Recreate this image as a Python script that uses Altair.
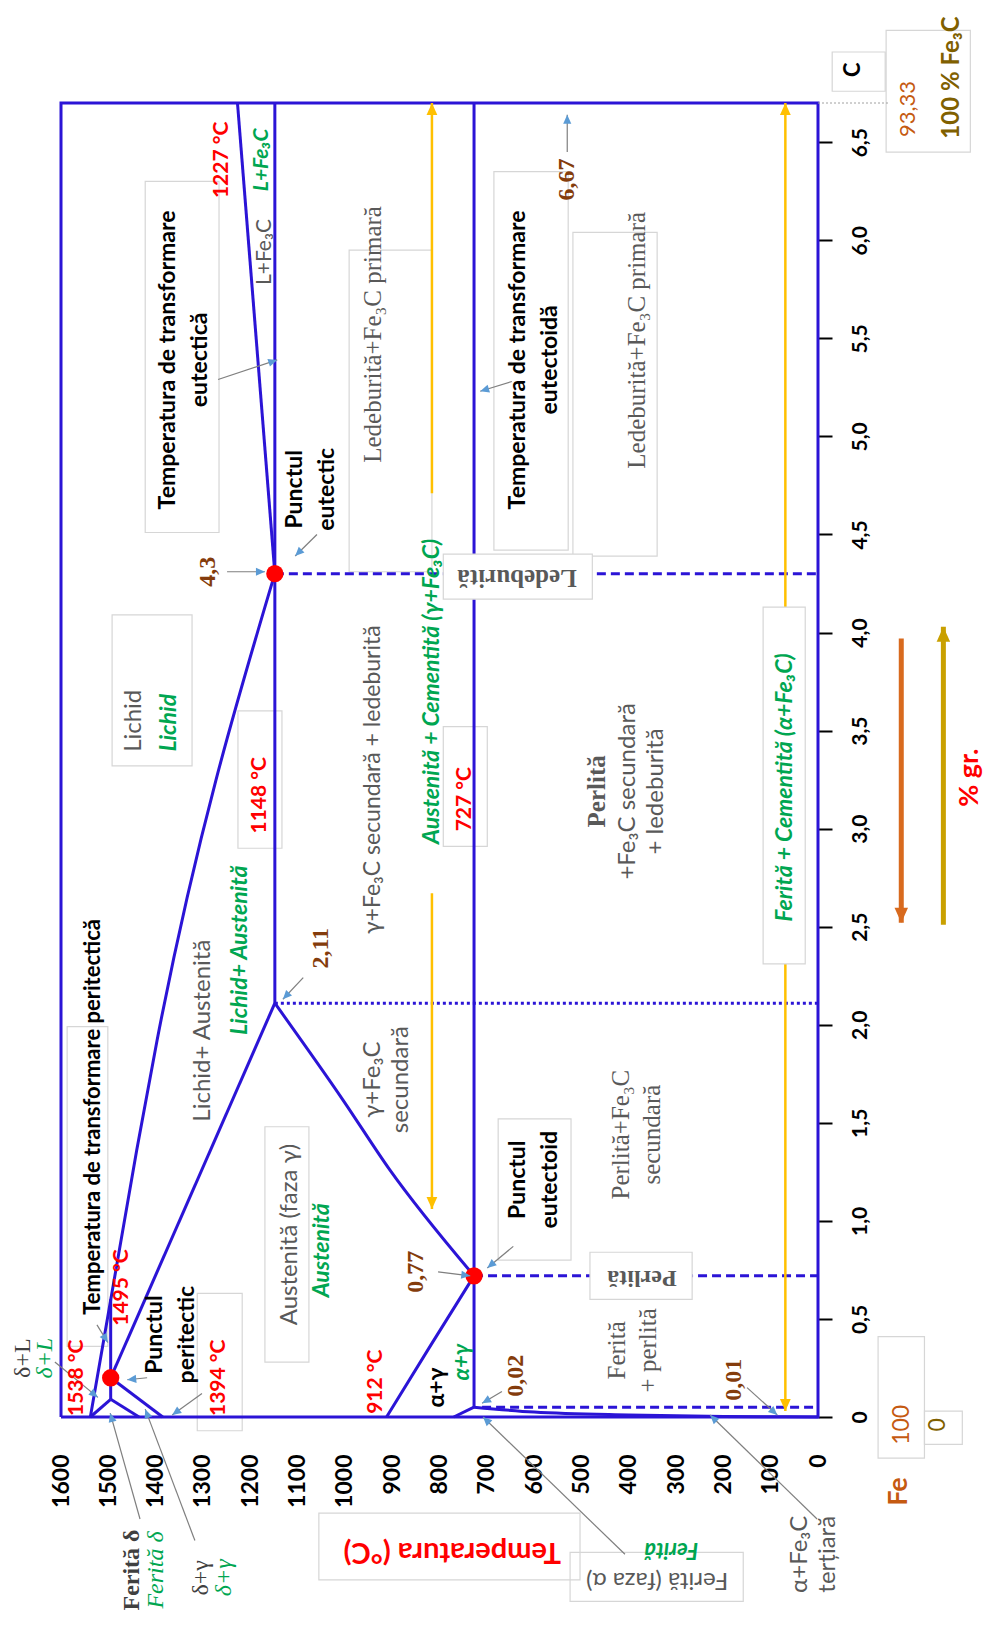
import math
import altair as alt
import pandas as pd

W, H = 757, 1314
T_MAX, C_MAX = 1600, 6.7

BLUE = "#2B14D6"
GOLD = "#FFC000"
GREY = "#595959"
DGREY = "#404040"
GREEN = "#00A651"
RED = "#FF0000"
BROWN = "#843C0C"
ORANGE = "#C55A11"
OLIVE = "#806000"
HEADBLUE = "#5B9BD5"

# ---------------- axis ticks ----------------
TEMP_TICKS = [0, 100, 200, 300, 400, 500, 600, 700, 800, 900, 1000,
              1100, 1200, 1300, 1400, 1500, 1600]
C_TICKS = [0, 0.5, 1.0, 1.5, 2.0, 2.5, 3.0, 3.5, 4.0, 4.5, 5.0, 5.5, 6.0, 6.5]

# ---------------- phase lines (T in °C, C in % gr.) ----------------
BOX_T = [1600, 0, 0, 1600, 1600]
BOX_C = [0, 0, 6.7, 6.7, 0]
LIQUIDUS_T = [1538, 1440, 1397, 1148]
LIQUIDUS_C = [0, 1.36, 1.92, 4.3]
LIQ_FE3C_T = [1148, 1227]
LIQ_FE3C_C = [4.3, 6.7]
DELTA_SOL_T = [1538, 1495]
DELTA_SOL_C = [0, 0.09]
PERITECTIC_T = [1495, 1495]
PERITECTIC_C = [0.09, 0.6]
GAMMA_SOL_T = [1495, 1148]
GAMMA_SOL_C = [0.2, 2.11]
DG1_T = [1495, 1435]
DG1_C = [0.09, 0]
DG2_T = [1495, 1385]
DG2_C = [0.2, 0]
EUTECTIC_T = [1148, 1148]
EUTECTIC_C = [2.11, 6.7]
ACM_T = [1148, 1005, 905, 727]
ACM_C = [2.11, 1.62, 1.26, 0.72]
A3_T = [912, 820, 727]
A3_C = [0, 0.36, 0.72]
AG_T = [770, 727]
AG_C = [0, 0.05]
EUTECTOID_T = [727, 727]
EUTECTOID_C = [0.05, 6.7]
SOLVUS_T = [727, 600, 400, 200, 0]
SOLVUS_C = [0.05, 0.025, 0.01, 0.003, 0]

DASH43_T = [1148, 0]
DASH43_C = [4.3, 4.3]
DASH077_T = [727, 0]
DASH077_C = [0.72, 0.72]
DASH002_T = [710, 10]
DASH002_C = [0.05, 0.05]
DOT211_T = [1148, 0]
DOT211_C = [2.11, 2.11]

TOPEXT_T = [0, -150]
TOPEXT_C = [6.7, 6.7]

# special points
DOT_T = [1495, 1148, 727]
DOT_C = [0.2, 4.3, 0.72]

# gold arrows (T, C from, C to)
GOLD_SEG_T = [816, 816, 69, 69]
GOLD_SEG_C1 = [4.71, 1.06, 4.13, 0.03]
GOLD_SEG_C2 = [6.7, 2.67, 6.7, 2.31]

# outer arrows
ORANGE_T = -176
ORANGE_C = [3.97, 2.52]
OLIVE_T = -265
OLIVE_C = [2.51, 4.03]

# annotation arrows (tail T, tail C, head T, head C)
ARROWS = [
    (1613, 0.28, 1522, 0.10),
    (1524, 0.47, 1501, 0.38),
    (1418, 0.20, 1460, 0.19),
    (1302, 0.12, 1365, 0.01),
    (1433, -0.52, 1496, 0.02),
    (1317, -0.63, 1422, 0.04),
    (803, 0.74, 735, 0.72),
    (644, 0.87, 699, 0.76),
    (668, 0.13, 710, 0.07),
    (150, 0.15, 86, 0.01),
    (408, -0.70, 708, 0.0),
    (2, -0.52, 228, 0.01),
    (1268, 5.29, 1143, 5.39),
    (1059, 4.50, 1105, 4.39),
    (1249, 4.31, 1169, 4.31),
    (1088, 2.24, 1131, 2.13),
    (647, 5.28, 714, 5.23),
    (530, 6.45, 530, 6.64),
]

# label boxes (T1, T2, C1, C2, filled)
BOXES = [
    (792, 477, 4.40, 4.17, True),
    (482, 266, 0.84, 0.60, True),
    (116, 27, 4.13, 2.31, True),
    (792, 699, 3.52, 2.91, False),
    (1226, 1133, 3.60, 2.90, False),
    (1492, 1323, 4.09, 3.32, False),
    (1422, 1266, 6.30, 4.51, False),
    (991, 816, 5.95, 4.31, False),
    (685, 528, 6.35, 4.42, False),
    (518, 340, 6.04, 4.39, False),
    (676, 522, 1.52, 0.80, False),
    (1055, 503, -0.49, -0.83, False),
    (524, 158, -0.69, -0.94, False),
    (-30, -142, 6.96, 6.76, False),
    (-144, -322, 7.07, 6.45, False),
    (-127, -225, 0.41, -0.21, False),
    (-225, -305, 0.03, -0.14, False),
    (1169, 1076, 1.48, 0.28, False),
    (1587, 1501, 1.99, 0.36, False),
    (1312, 1217, 0.63, -0.07, False),
]

# text labels: (text, T, C, color, size, angle); multi-line labels anchor on first line
SANS = [
    ("Austenită (faza γ)", 1116, 0.93, GREY, 24, 270),
    ("Lichid+ Austenită", 1300, 1.97, GREY, 24, 270),
    ("γ+Fe₃C\nsecundară", 940, 1.72, GREY, 24, 270),
    ("Lichid", 1446, 3.55, GREY, 24, 270),
    ("γ+Fe₃C secundară + ledeburită", 940, 3.25, GREY, 23, 270),
    ("+Fe₃C secundară\n+ ledeburită", 401, 3.19, GREY, 24, 270),
    ("L+Fe₃C", 1169, 5.94, GREY, 21, 270),
    ("Ferită (faza α)", 340, -0.83, GREY, 24, 180),
    ("α+Fe₃C\nterțiară", 38, -0.70, GREY, 24, 270),
    ("93,33", -191, 6.67, ORANGE, 22, 270),
    ("100", -178, -0.04, ORANGE, 23, 270),
    ("0", -254, -0.04, OLIVE, 23, 270),
]
SANS_B = [
    ("Temperatura de  transformare peritectică", 1532, 1.53, "black", 22, 270),
    ("1538 °C", 1566, 0.20, RED, 21, 270),
    ("1495 °C", 1471, 0.66, RED, 21, 270),
    ("Punctul\nperitectic", 1401, 0.42, "black", 23, 270),
    ("1394 °C", 1266, 0.20, RED, 21, 270),
    ("912 °C", 934, 0.18, RED, 21, 270),
    ("α+γ", 805, 0.15, "black", 23, 270),
    ("Punctul\neutectoid", 634, 1.21, "black", 23, 270),
    ("1148 °C", 1179, 3.17, RED, 21, 270),
    ("727 °C", 746, 3.15, RED, 21, 270),
    ("1227 °C", 1260, 6.41, RED, 21, 270),
    ("Temperatura de  transformare\neutectică", 1374, 5.39, "black", 23, 270),
    ("Punctul\neutectic", 1105, 4.73, "black", 23, 270),
    ("Temperatura de transformare\neutectoidă", 634, 5.39, "black", 23, 270),
    ("Temperatura (°C)", 773, -0.69, RED, 29, 180),
    ("C", -74, 6.87, "black", 22, 270),
    ("100 % Fe₃C", -284, 6.83, OLIVE, 24, 270),
    ("Fe", -172, -0.38, ORANGE, 27, 270),
    ("% gr.", -322, 3.26, RED, 27, 270),
]
SANS_BI = [
    ("Austenită", 1048, 0.85, GREEN, 23, 270),
    ("α+γ", 752, 0.28, GREEN, 22, 270),
    ("Lichid+ Austenită", 1222, 2.38, GREEN, 23, 270),
    ("Lichid", 1372, 3.54, GREEN, 23, 270),
    ("Austenită + Cementită (γ+Fe₃C)", 816, 3.70, GREEN, 23, 270),
    ("Ferită + Cementită (α+Fe₃C)", 69, 3.21, GREEN, 23, 270),
    ("L+Fe₃C", 1175, 6.41, GREEN, 21, 270),
    ("Ferită", 310, -0.68, GREEN, 22, 180),
]
SERIF = [
    ("δ+L", 1680, 0.30, DGREY, 24, 270),
    ("Ferită\n+ perlită", 425, 0.34, GREY, 25, 270),
    ("Perlită+Fe₃C\nsecundară", 416, 1.44, GREY, 25, 270),
    ("Ledeburită+Fe₃C primară", 940, 5.52, GREY, 25, 270),
    ("Ledeburită+Fe₃C primară", 382, 5.49, GREY, 25, 270),
    ("δ+γ", 1304, -0.82, DGREY, 24, 270),
]
SERIF_B = [
    ("Ferită δ", 1450, -0.78, DGREY, 24, 270),
    ("0,77", 849, 0.74, BROWN, 24, 270),
    ("0,02", 638, 0.21, BROWN, 24, 270),
    ("0,01", 177, 0.19, BROWN, 24, 270),
    ("4,3", 1289, 4.31, BROWN, 24, 270),
    ("2,11", 1050, 2.39, BROWN, 24, 270),
    ("6,67", 530, 6.31, BROWN, 24, 270),
    ("Perlită", 372, 0.71, GREY, 24, 180),
    ("Ledeburită", 636, 4.28, GREY, 25, 180),
    ("Perlită", 467, 3.19, GREY, 25, 270),
]
SERIF_I = [
    ("δ+L", 1634, 0.30, GREEN, 24, 270),
    ("Ferită δ", 1399, -0.78, GREEN, 24, 270),
    ("δ+γ", 1255, -0.82, GREEN, 24, 270),
]

# line heights per multi-line label group
LH_SANS, LH_SANS_B, LH_SERIF = 28, 32, 31

# ---------------- scales / axes ----------------
xs = alt.Scale(domain=[0, T_MAX], reverse=True, nice=False, zero=False)
ys = alt.Scale(domain=[0, C_MAX], nice=False, zero=False)

xaxis = alt.Axis(values=TEMP_TICKS, format="d", labelAngle=270, labelAlign="right",
                 labelBaseline="middle", labelFontSize=23, labelFontWeight="bold",
                 labelFont="Lato", labelColor="black", labelPadding=37, ticks=True,
                 tickSize=0, domain=False, grid=False, labelOverlap=False,
                 labelFlush=False, labelBound=False, title="")
yaxis = alt.Axis(orient="right", values=C_TICKS,
                 labelExpr="datum.value == 0 ? '0' : replace(format(datum.value, '.1f'), '.', ',')",
                 labelAngle=270, labelAlign="center", labelBaseline="top",
                 labelFontSize=21, labelFontWeight="bold", labelFont="Lato",
                 labelColor="black", labelPadding=17, tickSize=14, tickColor="black",
                 tickWidth=2, domain=False, grid=False, labelOverlap=False,
                 labelFlush=False, labelBound=False, title="")

X = alt.X("T:Q", scale=xs, axis=xaxis, title="")
Y = alt.Y("C:Q", scale=ys, axis=yaxis, title="")


def lines_df(segments):
    rows = []
    for name, ts, cs in segments:
        for i, (t, c) in enumerate(zip(ts, cs)):
            rows.append({"name": name, "i": i, "T": t, "C": c})
    return pd.DataFrame(rows)


def line_layer(segments, **mark):
    return alt.Chart(lines_df(segments)).mark_line(**mark).encode(
        x=X, y=Y, detail="name:N", order="i:Q")


solid = line_layer([
    ("box", BOX_T, BOX_C),
    ("liqfe3c", LIQ_FE3C_T, LIQ_FE3C_C), ("dsol", DELTA_SOL_T, DELTA_SOL_C),
    ("perit", PERITECTIC_T, PERITECTIC_C), ("gsol", GAMMA_SOL_T, GAMMA_SOL_C),
    ("dg1", DG1_T, DG1_C), ("dg2", DG2_T, DG2_C),
    ("eut", EUTECTIC_T, EUTECTIC_C), ("ag", AG_T, AG_C),
    ("eutd", EUTECTOID_T, EUTECTOID_C),
], color=BLUE, strokeWidth=3)

curves = line_layer([
    ("liq", LIQUIDUS_T, LIQUIDUS_C), ("acm", ACM_T, ACM_C),
    ("a3", A3_T, A3_C), ("solv", SOLVUS_T, SOLVUS_C),
], color=BLUE, strokeWidth=3, interpolate="monotone")

dashed = line_layer([
    ("d43", DASH43_T, DASH43_C), ("d077", DASH077_T, DASH077_C),
    ("d002", DASH002_T, DASH002_C),
], color=BLUE, strokeWidth=3, strokeDash=[9, 5])

dotted = line_layer([("d211", DOT211_T, DOT211_C)], color=BLUE, strokeWidth=3,
                    strokeDash=[3, 3])

topext = line_layer([("top", TOPEXT_T, TOPEXT_C)], color="#A0A0A0", strokeWidth=1,
                    strokeDash=[2, 2])

gold = line_layer([("g%d" % k, [t, t], [c1, c2]) for k, (t, c1, c2) in
                   enumerate(zip(GOLD_SEG_T, GOLD_SEG_C1, GOLD_SEG_C2))],
                  color=GOLD, strokeWidth=2.5)

orange = line_layer([("o", [ORANGE_T, ORANGE_T], ORANGE_C)], color="#D86A1E",
                    strokeWidth=5)
olive = line_layer([("v", [OLIVE_T, OLIVE_T], OLIVE_C)], color="#C9A000",
                   strokeWidth=5)

box_df = pd.DataFrame([{"T": a, "T2": b, "C": c, "C2": d, "f": f}
                       for a, b, c, d, f in BOXES])
X2 = alt.X2("T2:Q")
Y2 = alt.Y2("C2:Q")
boxes_open = alt.Chart(box_df[~box_df.f]).mark_rect(
    fillOpacity=0, stroke="#D6D6D6", strokeWidth=1.2).encode(x=X, x2=X2, y=Y, y2=Y2)
boxes_fill = alt.Chart(box_df[box_df.f]).mark_rect(
    fill="white", stroke="#D6D6D6", strokeWidth=1.2).encode(x=X, x2=X2, y=Y, y2=Y2)

dots = alt.Chart(pd.DataFrame({"T": DOT_T, "C": DOT_C})).mark_circle(
    color=RED, size=300, opacity=1).encode(x=X, y=Y)

arrow_df = pd.DataFrame([{"T": a, "C": b, "T2": c, "C2": d} for a, b, c, d in ARROWS])
arrow_lines = alt.Chart(arrow_df).mark_rule(color="#7F7F7F", strokeWidth=1.2).encode(
    x=X, x2=X2, y=Y, y2=Y2)


def head_angle(t0, c0, t1, c1):
    dx = -(t1 - t0) * W / T_MAX
    dy = -(c1 - c0) * H / C_MAX
    return math.degrees(math.atan2(dx, -dy)) % 360


heads = []
for a, b, c, d in ARROWS:
    heads.append({"T": c, "C": d, "ang": head_angle(a, b, c, d), "size": 324,
                  "color": HEADBLUE})
for t, c1, c2 in zip(GOLD_SEG_T, GOLD_SEG_C1, GOLD_SEG_C2):
    if c2 >= 6.69:
        heads.append({"T": t, "C": c2, "ang": 0, "size": 576, "color": GOLD})
    else:
        heads.append({"T": t, "C": c1, "ang": 180, "size": 576, "color": GOLD})
heads.append({"T": ORANGE_T, "C": ORANGE_C[1], "ang": 180, "size": 900, "color": "#D86A1E"})
heads.append({"T": OLIVE_T, "C": OLIVE_C[1], "ang": 0, "size": 900, "color": "#C9A000"})
HEAD_PATH = "M0,0L-0.45,1L0.45,1Z"
head_layer = alt.Chart(pd.DataFrame(heads)).mark_point(
    shape=HEAD_PATH, filled=True, opacity=1, strokeWidth=0).encode(
    x=X, y=Y, size=alt.Size("size:Q", scale=None),
    angle=alt.Angle("ang:Q", scale=None), color=alt.Color("color:N", scale=None))


def text_layer(rows, font, weight, style, lh):
    df = pd.DataFrame(rows, columns=["text", "T", "C", "color", "size", "ang"])
    return alt.Chart(df).mark_text(
        font=font, fontWeight=weight, fontStyle=style, align="center",
        baseline="middle", lineBreak="\n", lineHeight=lh).encode(
        x=X, y=Y, text="text:N", color=alt.Color("color:N", scale=None),
        size=alt.Size("size:Q", scale=None), angle=alt.Angle("ang:Q", scale=None))


texts = [
    text_layer(SANS, "Lato", "normal", "normal", LH_SANS),
    text_layer(SANS_B, "Lato", "bold", "normal", LH_SANS_B),
    text_layer(SANS_BI, "Lato", "bold", "italic", 30),
    text_layer(SERIF, "Liberation Serif", "normal", "normal", LH_SERIF),
    text_layer(SERIF_B, "Liberation Serif", "bold", "normal", LH_SERIF),
    text_layer(SERIF_I, "Liberation Serif", "normal", "italic", LH_SERIF),
]

chart = alt.layer(
    boxes_open, solid, curves, dashed, dotted, topext, gold, orange, olive, boxes_fill,
    dots, arrow_lines, head_layer, *texts
).properties(
    width=W, height=H,
    autosize=alt.AutoSizeParams(type="none"),
    padding={"left": 53, "top": 95, "right": 166, "bottom": 198},
    background="white",
).configure_view(strokeWidth=0)

chart.save("out.html", embed_options={"renderer": "svg", "actions": False})
